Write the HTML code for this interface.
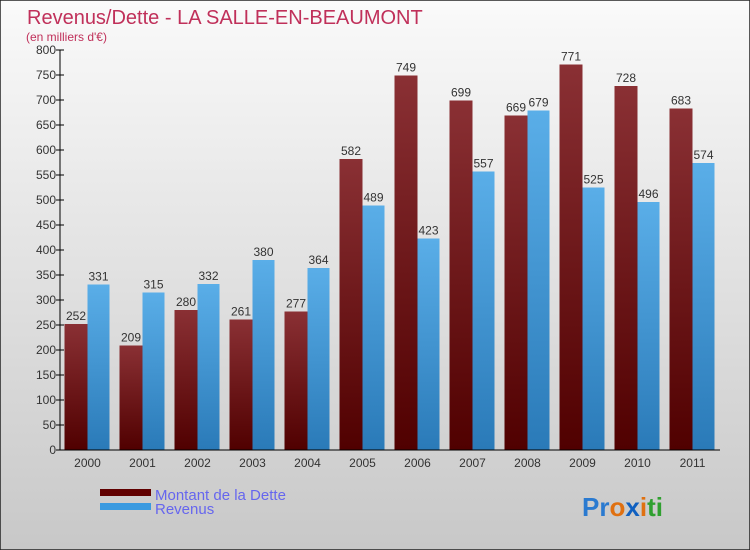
<!DOCTYPE html>
<html><head><meta charset="utf-8"><style>
body{margin:0;}
#c{position:relative;width:750px;height:550px;overflow:hidden;}
svg text{font-family:"Liberation Sans",sans-serif;}
</style></head><body>
<div id="c">
<svg id="s" width="750" height="550" xmlns="http://www.w3.org/2000/svg">
<defs>
<linearGradient id="bg" x1="0" y1="0" x2="0" y2="1"><stop offset="0" stop-color="#fafafa"/><stop offset="1" stop-color="#c8c8c8"/></linearGradient>
<linearGradient id="gd" x1="0" y1="0" x2="0" y2="1"><stop offset="0" stop-color="#8a3034"/><stop offset="1" stop-color="#500000"/></linearGradient>
<linearGradient id="gr" x1="0" y1="0" x2="0" y2="1"><stop offset="0" stop-color="#5aaee8"/><stop offset="1" stop-color="#2a7ab8"/></linearGradient>
</defs>
<rect x="0" y="0" width="750" height="550" fill="url(#bg)" stroke="#222" stroke-width="1.5"/>
<text x="27" y="24" font-size="20" fill="#c0305a">Revenus/Dette - LA SALLE-EN-BEAUMONT</text>
<text x="26" y="41" font-size="12" fill="#c0305a">(en milliers d'€)</text>
<g id="plot"></g>
<rect x="100" y="489" width="51" height="7" fill="#600000"/>
<rect x="100" y="503" width="51" height="7" fill="#3a9ae0"/>
<text x="155" y="500" font-size="15" fill="#6666ee">Montant de la Dette</text>
<text x="155" y="514" font-size="15" fill="#6666ee">Revenus</text>
<text x="582" y="516" font-size="26" font-weight="bold"><tspan fill="#2a7ad0">Pr</tspan><tspan fill="#e07010">o</tspan><tspan fill="#1060c0">x</tspan><tspan fill="#e07010">i</tspan><tspan fill="#30a030">ti</tspan></text>
</svg>
</div>
<script>
const years=["2000","2001","2002","2003","2004","2005","2006","2007","2008","2009","2010","2011"];
const dette=[252,209,280,261,277,582,749,699,669,771,728,683];
const revenus=[331,315,332,380,364,489,423,557,679,525,496,574];
const yTicks=[0,50,100,150,200,250,300,350,400,450,500,550,600,650,700,750,800];
const NS="http://www.w3.org/2000/svg";
const g=document.getElementById('plot');
const x0=60,x1=720,yb=450,yt=50,ymax=800;
const y=v=>yb-(v/ymax)*(yb-yt);
const step=(x1-x0)/years.length;
const cx=i=>x0+step*(i+0.5);
function mk(t,a){const e=document.createElementNS(NS,t);for(const k in a)e.setAttribute(k,a[k]);g.appendChild(e);return e;}
yTicks.forEach(v=>{
  const l=mk('line',{x1:x0-4,x2:x0+4,y1:y(v),y2:y(v),stroke:'#000'});
  
  
  const t=mk('text',{x:x0-4,y:y(v)+4,'text-anchor':'end','font-size':12,fill:'#333'});
  t.textContent=v;
  
  
});
years.forEach((yr,i)=>{
  const c=cx(i);
  const bd=mk('rect',{x:c-23,y:y(dette[i]),width:23,height:yb-y(dette[i]),fill:'url(#gd)'});
  
  
  const br=mk('rect',{x:c,y:y(revenus[i]),width:22,height:yb-y(revenus[i]),fill:'url(#gr)'});
  
  
  const td=mk('text',{x:c-11.5,y:y(dette[i])-4,'text-anchor':'middle','font-size':12,fill:'#333'});
  td.textContent=dette[i];
  
  
  const tr=mk('text',{x:c+11,y:y(revenus[i])-4,'text-anchor':'middle','font-size':12,fill:'#333'});
  tr.textContent=revenus[i];
  
  
  const xl=mk('text',{x:c,y:467,'text-anchor':'middle','font-size':12,fill:'#333'});
  xl.textContent=yr;
  
  
});
const ya=mk('line',{x1:x0,x2:x0,y1:yt,y2:yb,stroke:'#000'});


const xa=mk('line',{x1:x0,x2:x1,y1:yb,y2:yb,stroke:'#000'});


</script>
</body></html>
